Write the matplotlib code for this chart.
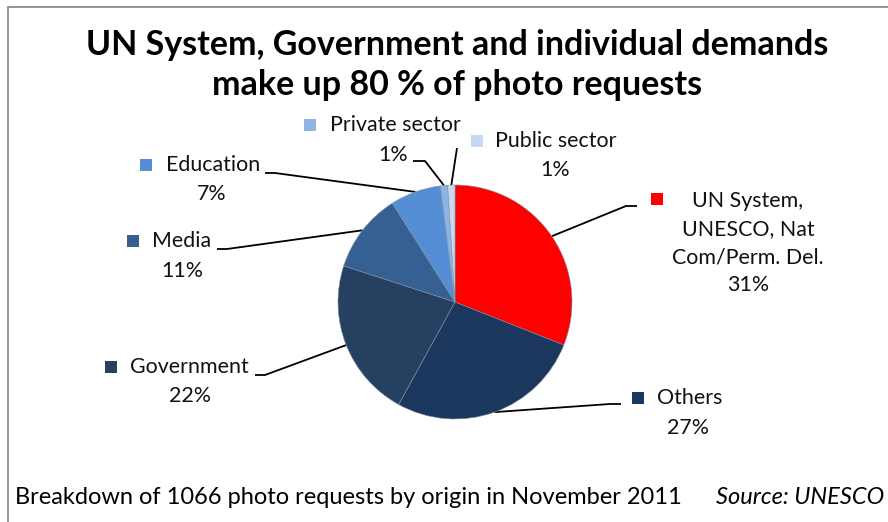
import numpy as np
import matplotlib
matplotlib.use("Agg")
import matplotlib.pyplot as plt
from matplotlib.patches import Rectangle

plt.rcParams["font.family"] = ["Lato", "DejaVu Sans"]

# ---- data ---------------------------------------------------------------
categories = ["UN System,\nUNESCO, Nat\nCom/Perm. Del.", "Others", "Government",
              "Media", "Education", "Private sector", "Public sector"]
shares = [31, 27, 22, 11, 7, 1, 1]
colors = ["#FF0000", "#1C375E", "#264061", "#376092", "#558ED5",
          "#8EB4E3", "#C6D9F1"]

title = "UN System, Government and individual demands\nmake up 80 % of photo requests"
footnote = "Breakdown of 1066 photo requests by origin in November 2011"
source = "Source: UNESCO"

# label layout in pixel space (square, name, pct, elbow, end of stub)
label_layout = {
    "UN System,\nUNESCO, Nat\nCom/Perm. Del.": dict(sq=(657, 199), name=(748, 243), multi=True,
                                                   elbow=(626, 206), stub=(637, 206)),
    "Others": dict(sq=(638, 398), name=(657, 398), pct=(688, 428),
                   elbow=(610, 404), stub=(621, 404)),
    "Government": dict(sq=(111, 367), name=(130, 367), pct=(190, 396),
                       elbow=(265, 375), stub=(255, 375)),
    "Media": dict(sq=(133, 241), name=(152, 241), pct=(182, 271),
                  elbow=(227, 249), stub=(217, 249)),
    "Education": dict(sq=(146, 165), name=(166, 165), pct=(212, 194),
                      elbow=(275, 173), stub=(265, 173)),
    "Private sector": dict(sq=(310, 125), name=(330, 125), pct=(393, 155),
                           elbow=(425, 161), stub=(413, 161)),
    "Public sector": dict(sq=(477, 141), name=(495, 141), pct=(555, 170),
                          elbow=(457, 148), stub=(457, 148)),
}

W, H = 888, 522
fig = plt.figure(figsize=(W / 100, H / 100), dpi=100)
fig.patch.set_facecolor("white")

# background axes in pixel coordinates for text and leader lines
bg = fig.add_axes([0, 0, 1, 1])
bg.set_xlim(0, W)
bg.set_ylim(H, 0)
bg.axis("off")

# chart border (only top and left visible in the crop)
bg.plot([8, 8, W + 5], [H + 5, 7, 7], color="#8C8C8C", lw=1.3,
        solid_joinstyle="miter")

# pie axes
cx, cy, r = 455, 302, 117
pax = fig.add_axes([(cx - r) / W, (H - cy - r) / H, 2 * r / W, 2 * r / H])
wedges, _ = pax.pie(shares, colors=colors, startangle=90, counterclock=False,
                    radius=1.0, wedgeprops=dict(edgecolor="#7f8fa6",
                                                linewidth=0.4))
pax.set_xlim(-1, 1)
pax.set_ylim(-1, 1)
pax.set_aspect("equal")
pax.axis("off")

fs = 15.4
txt_col = "#111111"
sq = 12.5
for w, cat, val, col in zip(wedges, categories, shares, colors):
    lay = label_layout[cat]
    ang = np.deg2rad((w.theta1 + w.theta2) / 2)
    # wedge edge point in pixel coordinates via the pie axes transform
    disp = pax.transData.transform((np.cos(ang) * w.r, np.sin(ang) * w.r))
    ex, ey = bg.transData.inverted().transform(disp)
    bg.plot([ex, lay["elbow"][0], lay["stub"][0]],
            [ey, lay["elbow"][1], lay["stub"][1]], color="black", lw=1.3,
            solid_capstyle="butt")
    sx, sy = lay["sq"]
    bg.add_patch(Rectangle((sx - sq / 2, sy - sq / 2), sq, sq, facecolor=col,
                           edgecolor="none"))
    if lay.get("multi"):
        bg.text(lay["name"][0], lay["name"][1], f"{cat}\n{val}%", ha="center",
                va="center", fontsize=fs, linespacing=1.5, color=txt_col)
    else:
        bg.text(lay["name"][0], lay["name"][1], cat, ha="left", va="center",
                fontsize=fs, color=txt_col)
        bg.text(lay["pct"][0], lay["pct"][1], f"{val}%", ha="center",
                va="center", fontsize=fs, color=txt_col)

bg.text(457, 65, title, ha="center", va="center", fontsize=24.5,
        fontweight="bold", linespacing=1.33, color="black")
bg.text(15, 497, footnote, ha="left", va="center", fontsize=17,
        color="black")
bg.text(884, 497, source, ha="right", va="center", fontsize=17,
        style="italic", color="black")

fig.savefig("out.png", dpi=100)
